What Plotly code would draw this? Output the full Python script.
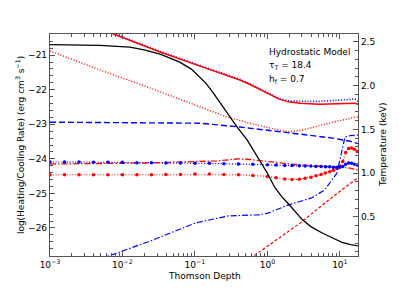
import numpy as np
import plotly.graph_objects as go

# ---------------- data (log10 Thomson depth) ----------------
# Black: temperature (keV), right axis
blk_lt = [-3.0, -2.6, -2.31, -1.9, -1.7, -1.48, -1.21, -1.05, -0.93, -0.85, -0.75, -0.56, -0.42, -0.28,
          -0.14, 0.0, 0.10, 0.2, 0.28, 0.38, 0.48, 0.6, 0.75, 0.9, 1.03, 1.15, 1.25]
blk_T = [2.47, 2.465, 2.46, 2.44, 2.41, 2.36, 2.27, 2.19, 2.10, 2.03, 1.92, 1.69, 1.53, 1.38,
         1.19, 1.00, 0.84, 0.73, 0.66, 0.56, 0.47, 0.39, 0.32, 0.26, 0.21, 0.185, 0.17]

# Red solid (top)
rs_lt = [-2.2, -1.48, -0.93, -0.38, -0.24, -0.1, 0.03, 0.17, 0.31, 0.45, 0.72, 1.0, 1.21, 1.25]
rs_v = [-20.33, -20.91, -21.32, -21.72, -21.85, -22.0, -22.15, -22.28, -22.36, -22.39, -22.42, -22.40, -22.39, -22.43]

# Blue dotted (on top of red solid)
bd_lt = [-2.2, -1.48, -0.93, -0.38, -0.24, -0.1, 0.03, 0.17, 0.31, 0.45, 0.72, 1.0, 1.21, 1.25]
bd_v = [-20.31, -20.89, -21.30, -21.70, -21.83, -21.98, -22.13, -22.26, -22.33, -22.34, -22.34, -22.30, -22.27, -22.34]

# Red dotted
rd_lt = [-3.0, -2.31, -1.62, -0.93, -0.56, -0.24, 0.03, 0.2, 0.31, 0.45, 0.59, 0.90, 1.23, 1.25]
rd_v = [-20.88, -21.43, -21.95, -22.50, -22.79, -22.97, -23.11, -23.19, -23.22, -23.18, -23.11, -22.94, -22.79, -22.79]

# Blue dashed
bdash_lt = [-3.0, -0.93, -0.38, 0.03, 0.31, 0.90, 1.14, 1.25]
bdash_v = [-22.94, -22.97, -23.08, -23.17, -23.25, -23.40, -23.49, -23.56]

# Red dash-dot (upper, near -24)
rdd_lt = [-3.0, -1.62, -0.70, -0.40, -0.24, 0.17, 0.45, 1.0, 1.14, 1.25]
rdd_v = [-24.15, -24.12, -24.06, -24.00, -24.02, -24.12, -24.18, -24.24, -24.27, -24.32]

# Marker curves (blue and red) on model grid
grid_lt = [-3.0, -2.8, -2.6, -2.4, -2.2, -2.0, -1.8, -1.6, -1.4, -1.2, -1.0, -0.8, -0.6, -0.4, -0.2,
           0.0, 0.12, 0.24, 0.34, 0.44, 0.52, 0.6, 0.67, 0.74, 0.8, 0.86, 0.91, 0.96, 1.0, 1.04,
           1.08, 1.12, 1.16, 1.2, 1.24]
bm_v = [-24.09, -24.09, -24.09, -24.10, -24.10, -24.10, -24.11, -24.11, -24.12, -24.12, -24.13, -24.13,
        -24.14, -24.15, -24.16, -24.17, -24.18, -24.19, -24.19, -24.20, -24.21, -24.21, -24.22, -24.22,
        -24.23, -24.23, -24.24, -24.24, -24.24, -24.22, -24.16, -24.12, -24.13, -24.16, -24.18]
rm_v = [-24.46, -24.46, -24.46, -24.46, -24.46, -24.46, -24.46, -24.46, -24.45, -24.45, -24.44, -24.44,
        -24.45, -24.46, -24.48, -24.51, -24.55, -24.58, -24.60, -24.59, -24.56, -24.53, -24.49, -24.45,
        -24.41, -24.37, -24.33, -24.28, -24.22, -24.08, -23.82, -23.70, -23.69, -23.72, -23.79]

# Blue dash-dot (lower)
bdl_lt = [-2.31, -1.62, -1.0, -0.54, -0.13, 0.01, 0.28, 0.61, 0.79, 0.96, 1.03, 1.07, 1.14, 1.25]
bdl_v = [-26.90, -26.38, -25.86, -25.65, -25.62, -25.57, -25.34, -25.13, -24.90, -24.41, -23.75, -23.37, -23.33, -23.31]

# Red dashed
rdash_lt = [-0.24, -0.17, 0.45, 0.90, 1.25]
rdash_v = [-26.87, -26.78, -25.86, -25.10, -24.55]

xtick_vals = [1e-3, 1e-2, 1e-1, 1, 10]
xtick_text = ["10<sup>−3</sup>", "10<sup>−2</sup>", "10<sup>−1</sup>", "10<sup>0</sup>", "10<sup>1</sup>"]
ytick_vals = [-21, -22, -23, -24, -25, -26]
ytick_text = ["−21", "−22", "−23", "−24", "−25", "−26"]
y2tick_vals = [0.5, 1.0, 1.5, 2.0, 2.5]
y2tick_text = ["0.5", "1.0", "1.5", "2.0", "2.5"]

notes = ["Hydrostatic Model", "τ<sub>T</sub> = 18.4", "h<sub>f</sub> = 0.7"]
x_title = "Thomson Depth"
y_title = "log(Heating/Cooling Rate) (erg cm<sup>3</sup> s<sup>−1</sup>)"
y2_title = "Temperature (keV)"

RED = "#ff0000"
BLUE = "#0000ff"
DOT = "1px,1.8px"
DASH_R = "3px,2px"
DASH_B = "6px,3px"
DASHDOT = "6px,2px,1.5px,2px"


def tx(lt):
    return 10 ** np.array(lt, dtype=float)


fig = go.Figure()
fig.add_trace(go.Scatter(x=tx(rd_lt), y=rd_v, mode="lines", line=dict(color=RED, width=1.4, dash=DOT)))
fig.add_trace(go.Scatter(x=tx(bdash_lt), y=bdash_v, mode="lines", line=dict(color=BLUE, width=1.4, dash=DASH_B)))
fig.add_trace(go.Scatter(x=tx(bd_lt), y=bd_v, mode="lines", line=dict(color=BLUE, width=1.6, dash=DOT)))
fig.add_trace(go.Scatter(x=tx(rs_lt), y=rs_v, mode="lines", line=dict(color=RED, width=1.5)))
fig.add_trace(go.Scatter(x=tx(rdd_lt), y=rdd_v, mode="lines", line=dict(color=RED, width=1.3, dash=DASHDOT)))
fig.add_trace(go.Scatter(x=tx(grid_lt), y=rm_v, mode="lines+markers", line=dict(color=RED, width=1.2, dash=DOT),
                         marker=dict(color=RED, size=3.5)))
fig.add_trace(go.Scatter(x=tx(grid_lt), y=bm_v, mode="lines+markers", line=dict(color=BLUE, width=1.2, dash=DOT),
                         marker=dict(color=BLUE, size=3.5)))
fig.add_trace(go.Scatter(x=tx(bdl_lt), y=bdl_v, mode="lines", line=dict(color=BLUE, width=1.2, dash=DASHDOT)))
fig.add_trace(go.Scatter(x=tx(rdash_lt), y=rdash_v, mode="lines", line=dict(color=RED, width=1.2, dash=DASH_R)))
fig.add_trace(go.Scatter(x=tx(blk_lt), y=blk_T, mode="lines", yaxis="y2", line=dict(color="black", width=1.3)))

minor_x = [k * 10.0 ** e for e in range(-3, 2) for k in range(2, 10)]
FONT = dict(family="DejaVu Sans", size=9, color="black")
AX = "#555555"

fig.update_layout(
    width=399, height=288,
    margin=dict(l=50, r=41, t=34, b=32),
    paper_bgcolor="white", plot_bgcolor="white",
    showlegend=False,
    font=FONT,
    xaxis=dict(type="log", range=[-3, 1.25], showgrid=False, zeroline=False, automargin=False,
               showline=True, linecolor=AX, linewidth=1.2, mirror="ticks",
               ticks="inside", ticklen=5, tickcolor=AX,
               tickvals=xtick_vals, ticktext=xtick_text, tickfont=FONT,
               minor=dict(ticks="inside", ticklen=2.5, tickcolor=AX, tickvals=minor_x, showgrid=False)),
    yaxis=dict(range=[-26.81, -20.39], showgrid=False, zeroline=False, automargin=False,
               showline=True, linecolor=AX, linewidth=1.2,
               ticks="inside", ticklen=5, tickcolor=AX,
               tickvals=ytick_vals, ticktext=ytick_text, tickfont=FONT,
               minor=dict(ticks="inside", ticklen=2.5, tickcolor=AX, dtick=0.2, showgrid=False)),
    yaxis2=dict(overlaying="y", side="right", range=[0.054, 2.591], showgrid=False, zeroline=False, automargin=False,
                showline=True, linecolor=AX, linewidth=1.2,
                ticks="inside", ticklen=5, tickcolor=AX,
                tickvals=y2tick_vals, ticktext=y2tick_text, tickfont=FONT,
                minor=dict(ticks="inside", ticklen=2.5, tickcolor=AX, dtick=0.1, showgrid=False)),
)

for i, t in enumerate(notes):
    fig.add_annotation(text=t, xref="paper", yref="paper", x=0.705, y=0.92 - 0.063 * i,
                       xanchor="left", yanchor="middle", showarrow=False, font=FONT)

fig.add_annotation(text=x_title, xref="paper", yref="paper", x=0.5, y=-0.088,
                   xanchor="center", yanchor="middle", showarrow=False, font=FONT)
fig.add_annotation(text=y_title, xref="paper", yref="paper", x=-0.097, y=0.5, textangle=-90,
                   xanchor="center", yanchor="middle", showarrow=False, font=FONT)
fig.add_annotation(text=y2_title, xref="paper", yref="paper", x=1.081, y=0.5, textangle=-90,
                   xanchor="center", yanchor="middle", showarrow=False, font=FONT)

fig.write_html("out.html", config={"displayModeBar": False},
               post_script="document.body.style.margin='0';")
